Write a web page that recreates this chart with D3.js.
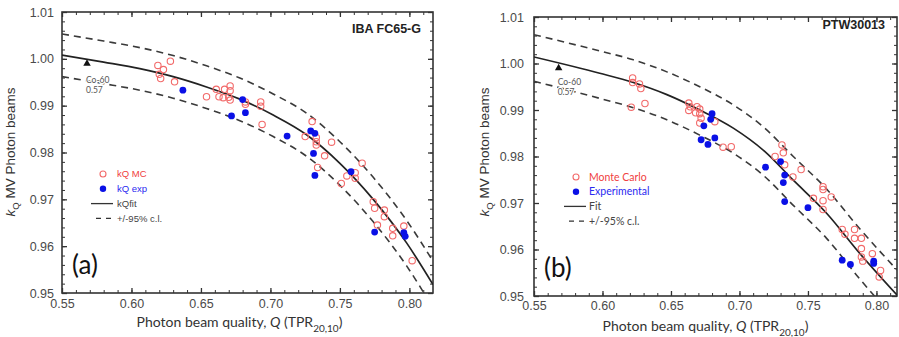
<!DOCTYPE html>
<html>
<head>
<meta charset="utf-8">
<script src="https://cdn.jsdelivr.net/npm/d3@7"></script>
<style>
  body { margin: 0; background: #fff; }
  svg { display: block; }
</style>
</head>
<body>
<div id="chart"></div>
<script>
// ---- data: [Q, kQ] ----
const mcA = [
  [0.619, 0.9986], [0.628, 0.9995], [0.623, 0.9977], [0.620, 0.9967], [0.621, 0.9958], [0.631, 0.9951],
  [0.654, 0.9919], [0.661, 0.9935], [0.667, 0.9935], [0.671, 0.9942], [0.671, 0.9932], [0.663, 0.9919],
  [0.666, 0.9917], [0.671, 0.9912], [0.670, 0.9918], [0.682, 0.9908], [0.682, 0.9903], [0.693, 0.9908],
  [0.693, 0.9899], [0.694, 0.9860],
  [0.730, 0.9866], [0.725, 0.9834], [0.733, 0.9832], [0.733, 0.9823], [0.733, 0.9816], [0.739, 0.9793],
  [0.734, 0.9768], [0.744, 0.9822], [0.766, 0.9777], [0.761, 0.9757], [0.761, 0.9745], [0.755, 0.9750],
  [0.751, 0.9734], [0.774, 0.9695], [0.775, 0.9681], [0.782, 0.9677], [0.782, 0.9663], [0.777, 0.9645],
  [0.788, 0.9638], [0.788, 0.9622], [0.796, 0.9643], [0.802, 0.9569]
];
const expA = [
  [0.637, 0.9933], [0.680, 0.9913], [0.672, 0.9878], [0.682, 0.9885], [0.712, 0.9835], [0.729, 0.9846],
  [0.732, 0.9841], [0.731, 0.9798], [0.732, 0.9751], [0.758, 0.9759], [0.775, 0.9630], [0.796, 0.9629],
  [0.797, 0.9621]
];
const fitQA   = [0.55, 0.58, 0.606, 0.63, 0.654, 0.678, 0.702, 0.726, 0.75, 0.774, 0.798, 0.817];
const fitKA   = [1.0008, 0.9993, 0.9979, 0.9962, 0.9940, 0.9914, 0.9880, 0.9838, 0.9777, 0.9700, 0.9607, 0.9518];
const upperKA = [1.0053, 1.0038, 1.0024, 1.0007, 0.9985, 0.9959, 0.9925, 0.9884, 0.9823, 0.9747, 0.9655, 0.9568];
const lowerKA = [0.9962, 0.9947, 0.9933, 0.9916, 0.9894, 0.9868, 0.9834, 0.9792, 0.9730, 0.9652, 0.9558, 0.9468];

const mcB = [
  [0.622, 0.9969], [0.622, 0.9959], [0.627, 0.9956], [0.628, 0.9946], [0.621, 0.9906], [0.631, 0.9914],
  [0.663, 0.9915], [0.664, 0.9907], [0.669, 0.9907], [0.671, 0.9902], [0.663, 0.9899], [0.668, 0.9894],
  [0.671, 0.9892], [0.672, 0.9882], [0.671, 0.9872], [0.682, 0.9875], [0.688, 0.9820], [0.694, 0.9821],
  [0.731, 0.9825], [0.732, 0.9808], [0.726, 0.9800], [0.733, 0.9782], [0.745, 0.9772], [0.739, 0.9756],
  [0.761, 0.9735], [0.761, 0.9729], [0.767, 0.9713], [0.754, 0.9710], [0.761, 0.9705], [0.761, 0.9686],
  [0.775, 0.9643], [0.777, 0.9633], [0.784, 0.9643], [0.784, 0.9624], [0.789, 0.9624], [0.789, 0.9602],
  [0.797, 0.9591], [0.789, 0.9584], [0.790, 0.9575], [0.803, 0.9555], [0.802, 0.9541]
];
const expB = [
  [0.680, 0.9892], [0.679, 0.9880], [0.674, 0.9866], [0.672, 0.9836], [0.677, 0.9826], [0.682, 0.9840],
  [0.719, 0.9777], [0.730, 0.9789], [0.733, 0.9760], [0.732, 0.9744], [0.733, 0.9703], [0.750, 0.9690],
  [0.775, 0.9577], [0.781, 0.9568], [0.798, 0.9575], [0.798, 0.9570]
];
const fitQB   = [0.55, 0.598, 0.6225, 0.647, 0.671, 0.6955, 0.718, 0.7393, 0.7636, 0.788, 0.815];
const fitKB   = [1.0014, 0.9979, 0.9959, 0.9933, 0.9900, 0.9861, 0.9812, 0.9749, 0.9678, 0.9591, 0.9502];
const upperKB = [1.0062, 1.0027, 1.0008, 0.9982, 0.9950, 0.9911, 0.9862, 0.9800, 0.9730, 0.9644, 0.9556];
const lowerKB = [0.9962, 0.9925, 0.9905, 0.9879, 0.9846, 0.9807, 0.9758, 0.9695, 0.9624, 0.9536, 0.9446];

const co60 = [0.568, 0.9990];
const xTicks = [0.55, 0.60, 0.65, 0.70, 0.75, 0.80];
const yTicks = [0.95, 0.96, 0.97, 0.98, 0.99, 1.00, 1.01];
const legendA = ["kQ MC", "kQ exp", "kQfit", "+/-95% c.l."];
const legendB = ["Monte Carlo", "Experimental", "Fit", "+/-95% c.l."];

const svg = d3.select("#chart").append("svg")
  .attr("width", 899)
  .attr("height", 337);

function drawPanel(p) {
  const x = d3.scaleLinear().domain(p.xDomain).range([p.left, p.right]);
  const y = d3.scaleLinear().domain([0.95, 1.01]).range([p.bottom, p.top]);
  const g = svg.append("g");
  const w = p.right - p.left, h = p.bottom - p.top;

  g.append("clipPath").attr("id", p.id + "-clip")
    .append("rect").attr("x", p.left).attr("y", p.top).attr("width", w).attr("height", h);

  const minorX = d3.range(55, Math.floor(p.xDomain[1] * 100) + 1).map(d => d / 100);
  const minorY = d3.range(475, 506).map(d => d / 500);

  // axes, ticks pointing inward on all four sides
  const axes = [
    { a: d3.axisBottom(x), t: `translate(0,${p.bottom})`, labels: true, vals: xTicks, minor: minorX },
    { a: d3.axisTop(x), t: `translate(0,${p.top})`, labels: false, vals: xTicks, minor: minorX },
    { a: d3.axisLeft(y), t: `translate(${p.left},0)`, labels: true, vals: yTicks, minor: minorY },
    { a: d3.axisRight(y), t: `translate(${p.right},0)`, labels: false, vals: yTicks, minor: minorY }
  ];
  axes.forEach((ax, i) => {
    const isX = i < 2;
    const major = g.append("g").attr("transform", ax.t)
      .call(ax.a.tickValues(ax.vals).tickSize(-5)
        .tickPadding(isX ? p.xPad : p.yPad)
        .tickFormat(ax.labels ? d3.format(".2f") : ""));
    major.select(".domain").remove();
    major.selectAll("line").attr("stroke", "#333").attr("stroke-width", 1.3);
    major.selectAll("text").attr("fill", "#4a4a4a")
      .style("font-family", "'Liberation Sans', Arial, sans-serif").style("font-size", "12.5px");
    const minor = g.append("g").attr("transform", ax.t)
      .call(ax.a.tickValues(ax.minor).tickSize(-3).tickFormat(""));
    minor.select(".domain").remove();
    minor.selectAll("line").attr("stroke", "#333").attr("stroke-width", 1);
  });

  g.append("rect")
    .attr("x", p.left).attr("y", p.top).attr("width", w).attr("height", h)
    .attr("fill", "none").attr("stroke", "#333").attr("stroke-width", 1.6);

  // fit and confidence lines
  const line = d3.line().x(d => x(d[0])).y(d => y(d[1])).curve(d3.curveMonotoneX);
  const plot = g.append("g").attr("clip-path", `url(#${p.id}-clip)`);
  [p.upper, p.lower].forEach(k => {
    plot.append("path").datum(p.fitQ.map((q, i) => [q, k[i]]))
      .attr("d", line).attr("fill", "none")
      .attr("stroke", "#3a3a3a").attr("stroke-width", 1.6).attr("stroke-dasharray", "7,5");
  });
  plot.append("path").datum(p.fitQ.map((q, i) => [q, p.fitK[i]]))
    .attr("d", line).attr("fill", "none")
    .attr("stroke", "#222").attr("stroke-width", 1.7);

  // points
  plot.selectAll("circle.mc").data(p.mc).enter().append("circle")
    .attr("class", "mc")
    .attr("cx", d => x(d[0])).attr("cy", d => y(d[1])).attr("r", 3.2)
    .attr("fill", "none").attr("stroke", "#f26a6a").attr("stroke-width", 1.1);
  plot.selectAll("circle.exp").data(p.exp).enter().append("circle")
    .attr("class", "exp")
    .attr("cx", d => x(d[0])).attr("cy", d => y(d[1])).attr("r", 3.4)
    .attr("fill", "#0a10e6");

  // Co-60 marker
  plot.append("path")
    .attr("d", d3.symbol(d3.symbolTriangle, 24)())
    .attr("transform", `translate(${x(co60[0])},${y(co60[1])})`)
    .attr("fill", "#111");
  const co = g.append("text")
    .attr("x", x(co60[0]) - 1).attr("y", y(co60[1]) + p.coDy)
    .attr("fill", "#555")
    .attr("stroke", "#fff").attr("stroke-width", 2.5).attr("paint-order", "stroke")
    .style("font-family", "Lato, 'Open Sans', sans-serif").style("font-size", "8.5px");
  co.append("tspan").text("Co-60");
  co.append("tspan").attr("x", x(co60[0]) - 1).attr("dy", 10).text("0.57");

  // instrument name and panel letter
  g.append("text")
    .attr("x", p.right - 12).attr("y", p.top + p.nameDy)
    .attr("text-anchor", "end")
    .style("font-family", "'Liberation Sans', Arial, sans-serif")
    .style("font-weight", "bold").style("font-size", "12.5px")
    .attr("fill", "#222").text(p.name);
  g.append("text")
    .attr("x", p.left + 10).attr("y", p.bottom - 19)
    .style("font-family", "Lato, 'Open Sans', sans-serif").style("font-size", "26px")
    .attr("fill", "#111").text(p.letter);

  // legend
  const lg = g.append("g").attr("transform", `translate(${p.legX},${p.legY})`)
    .style("font-family", p.legFont).style("font-size", p.legSize);
  const rowH = p.rowH;
  lg.append("circle").attr("cx", 0).attr("cy", 0).attr("r", 3)
    .attr("fill", "none").attr("stroke", "#f26a6a").attr("stroke-width", 1.1);
  lg.append("circle").attr("cx", 0).attr("cy", rowH).attr("r", 3.2).attr("fill", "#0a10e6");
  lg.append("line").attr("x1", -12).attr("x2", 10).attr("y1", rowH * 2).attr("y2", rowH * 2)
    .attr("stroke", "#333").attr("stroke-width", 1.3);
  lg.append("line").attr("x1", -7).attr("x2", 10).attr("y1", rowH * 3).attr("y2", rowH * 3)
    .attr("stroke", "#333").attr("stroke-width", 1.3).attr("stroke-dasharray", "5,5");
  const legColors = ["#f04040", "#2a2af0", "#444", "#444"];
  lg.selectAll("text").data(p.legend).enter().append("text")
    .attr("x", p.legTx).attr("y", (d, i) => i * rowH)
    .attr("dy", "0.35em")
    .attr("fill", (d, i) => legColors[i])
    .text(d => d);

  // axis titles
  const xt = g.append("text")
    .attr("x", (p.left + p.right) / 2 + p.xtDx).attr("y", p.xtY)
    .attr("text-anchor", "middle").attr("fill", "#333")
    .style("font-family", "Lato, 'Open Sans', sans-serif").style("font-size", "14px");
  xt.append("tspan").text("Photon beam quality, ");
  xt.append("tspan").style("font-style", "italic").text("Q");
  xt.append("tspan").text(" (TPR");
  xt.append("tspan").attr("dy", 5).style("font-size", "10px").text("20,10");
  xt.append("tspan").attr("dy", -5).text(")");

  const yt = g.append("text")
    .attr("transform", `translate(${p.ytX},${p.ytY}) rotate(-90)`)
    .attr("text-anchor", "middle").attr("fill", "#333")
    .style("font-family", "'Liberation Sans', Arial, sans-serif").style("font-size", "13.5px");
  yt.append("tspan").style("font-style", "italic").text("k");
  yt.append("tspan").attr("dy", 4).style("font-size", "9.5px").text("Q");
  yt.append("tspan").attr("dy", -4).text(" MV Photon beams");
}

drawPanel({
  id: "pa", left: 62, right: 433, top: 12, bottom: 293, xDomain: [0.55, 0.817],
  xPad: 6, yPad: 8,
  mc: mcA, exp: expA, fitQ: fitQA, fitK: fitKA, upper: upperKA, lower: lowerKA,
  name: "IBA FC65-G", nameDy: 21, letter: "(a)", coDy: 19,
  legend: legendA, legX: 103, legY: 174, rowH: 14.8, legTx: 14,
  legFont: "'Liberation Sans', Arial, sans-serif", legSize: "9.5px",
  xtDx: -8, xtY: 327, ytX: 15, ytY: 152
});

drawPanel({
  id: "pb", left: 534, right: 897, top: 17, bottom: 296, xDomain: [0.55, 0.815],
  xPad: 5, yPad: 10,
  mc: mcB, exp: expB, fitQ: fitQB, fitK: fitKB, upper: upperKB, lower: lowerKB,
  name: "PTW30013", nameDy: 12, letter: "(b)", coDy: 17,
  legend: legendB, legX: 576, legY: 177, rowH: 14.7, legTx: 13,
  legFont: "Lato, 'Open Sans', sans-serif", legSize: "10.5px",
  xtDx: -10, xtY: 331, ytX: 489, ytY: 152
});
</script>
</body>
</html>
